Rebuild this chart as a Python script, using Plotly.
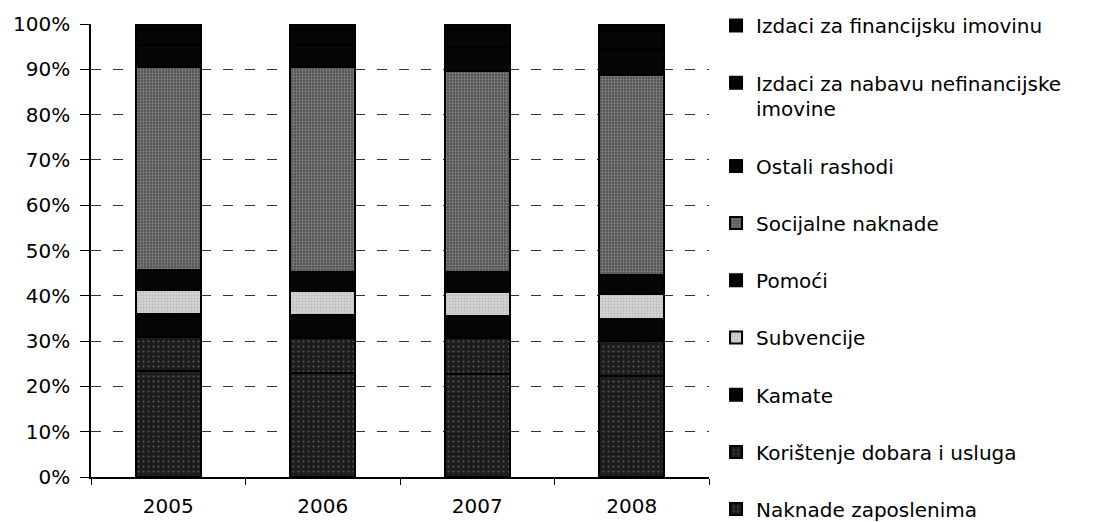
import plotly.graph_objects as go

years = ["2005", "2006", "2007", "2008"]

naknade_zaposlenima = [23.5, 23.0, 22.8, 22.2]
koristenje_dobara = [7.4, 7.7, 7.8, 7.8]
kamate = [5.0, 5.0, 4.9, 4.9]
subvencije = [5.3, 5.3, 5.4, 5.5]
pomoci = [4.6, 4.3, 4.3, 4.2]
socijalne_naknade = [44.6, 45.1, 44.5, 44.1]
ostali_rashodi = [5.0, 4.9, 5.2, 5.6]
izdaci_nefinancijska = [3.5, 3.6, 3.8, 4.2]
izdaci_financijska = [1.1, 1.1, 1.3, 1.5]

series = [
    ("Naknade zaposlenima", naknade_zaposlenima, "#1c1c1c", "#8a8a8a", 5, 0.15),
    ("Korištenje dobara i usluga", koristenje_dobara, "#1c1c1c", "#8a8a8a", 5, 0.15),
    ("Kamate", kamate, "#050505", None, 0, 0),
    ("Subvencije", subvencije, "#d4d4d4", "#9a9a9a", 3, 0.35),
    ("Pomoći", pomoci, "#050505", None, 0, 0),
    ("Socijalne naknade", socijalne_naknade, "#4e4e4e", "#b5b5b5", 3, 0.45),
    ("Ostali rashodi", ostali_rashodi, "#050505", None, 0, 0),
    ("Izdaci za nabavu nefinancijske<br>imovine", izdaci_nefinancijska, "#050505", None, 0, 0),
    ("Izdaci za financijsku imovinu", izdaci_financijska, "#050505", None, 0, 0),
]

fig = go.Figure()
n = len(series)
for i, (name, vals, bg, fg, psize, sol) in enumerate(series):
    marker = dict(color=bg, line=dict(color="#000000", width=2))
    if fg is not None:
        marker["pattern"] = dict(shape=".", bgcolor=bg, fgcolor=fg, size=psize,
                                 solidity=sol, fillmode="overlay")
    fig.add_trace(go.Bar(x=years, y=vals, name=name, marker=marker,
                         legendgroup="g%d" % i, legendrank=n - i))

font_family = "DejaVu Sans, Arial, sans-serif"

fig.update_layout(
    barmode="stack",
    bargap=0.58,
    width=1102,
    height=522,
    margin=dict(l=91, r=393, t=24, b=45),
    paper_bgcolor="white",
    plot_bgcolor="white",
    font=dict(family=font_family, size=20, color="#000000"),
    showlegend=True,
    legend=dict(
        traceorder="grouped",
        tracegroupgap=28.2,
        xref="container", yref="container",
        x=(91 + 1.0114 * 618) / 1102, xanchor="left",
        y=1 - 6 / 522, yanchor="top",
        valign="top",
        maxheight=1000,
        font=dict(family=font_family, size=20, color="#000000"),
        bgcolor="rgba(0,0,0,0)",
    ),
    xaxis=dict(
        type="category",
        automargin=False,
        showline=True, linecolor="#000000", linewidth=1.5,
        ticks="outside", ticklen=6, tickcolor="#000000",
        tickson="boundaries",
        ticklabelstandoff=10,
        showgrid=False,
        tickfont=dict(family=font_family, size=20),
    ),
    yaxis=dict(
        range=[0, 100],
        automargin=False,
        tickvals=[0, 10, 20, 30, 40, 50, 60, 70, 80, 90, 100],
        ticktext=["0%", "10%", "20%", "30%", "40%", "50%", "60%", "70%", "80%", "90%", "100%"],
        showline=True, linecolor="#000000", linewidth=1.5,
        ticks="outside", ticklen=9, tickcolor="#000000",
        ticklabelstandoff=6,
        showgrid=True, gridcolor="#333333", gridwidth=1, griddash="10px,12px",
        zeroline=False,
        tickfont=dict(family=font_family, size=20),
    ),
)

fig.write_html("out.html", config={"displayModeBar": False},
               post_script="document.body.style.margin='0px';")
